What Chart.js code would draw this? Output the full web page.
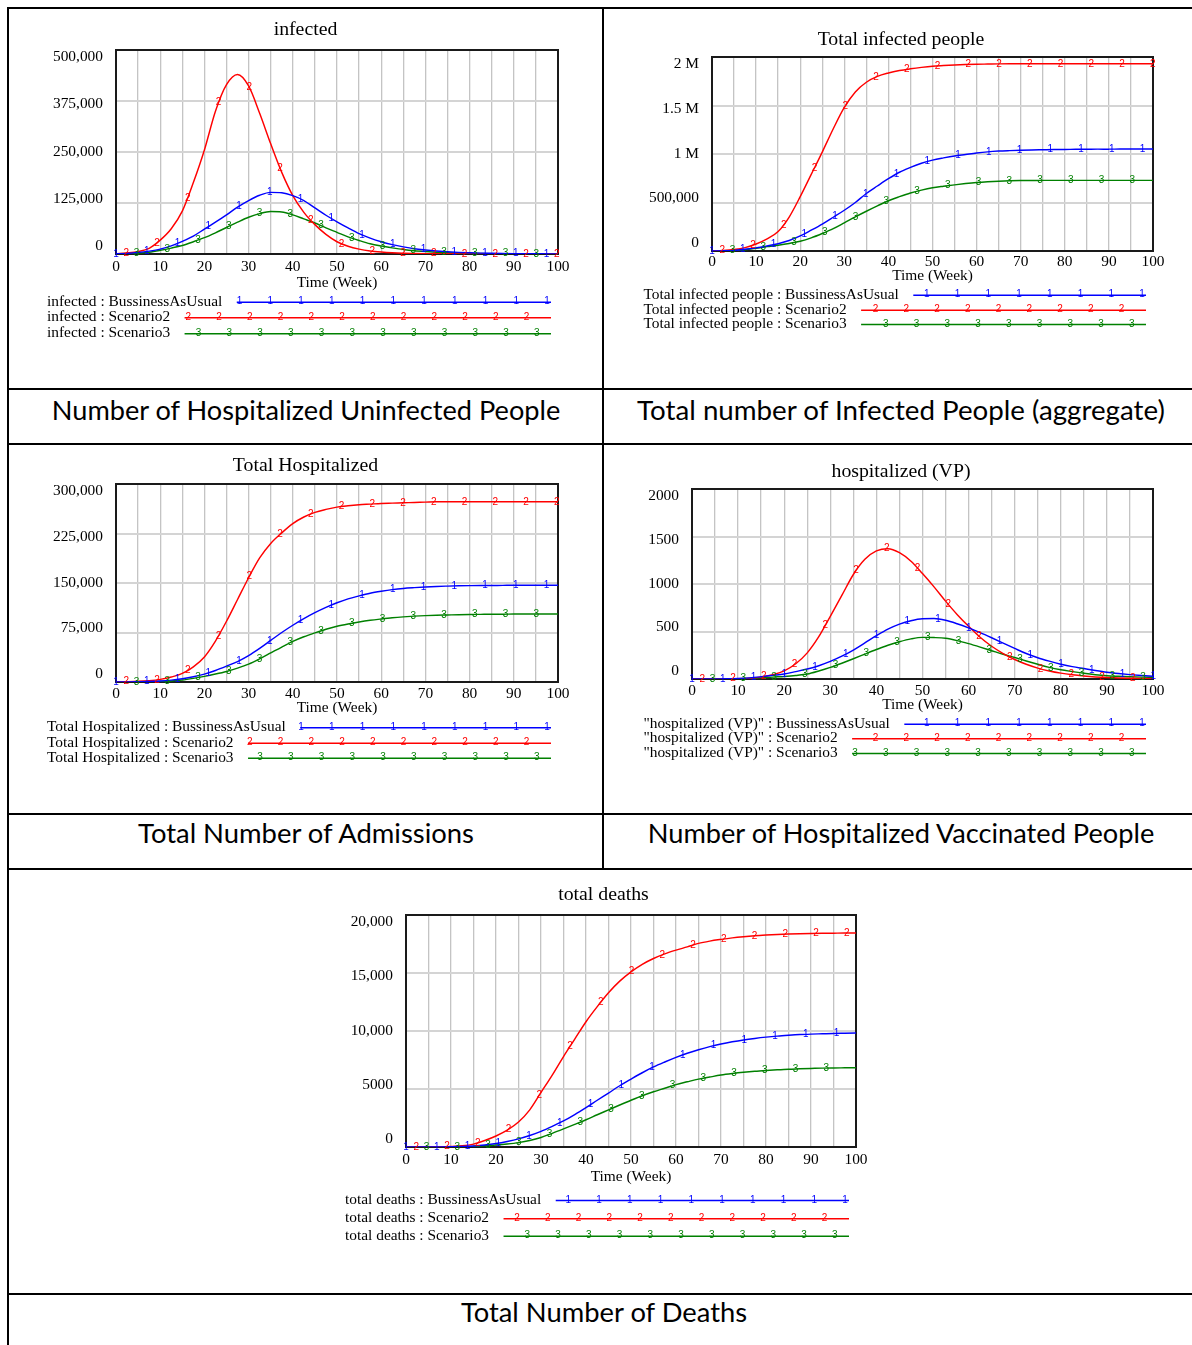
<!DOCTYPE html>
<html>
<head>
<meta charset="utf-8">
<title>Scenario results</title>
<script src="https://cdn.jsdelivr.net/npm/chart.js@4.4.1/dist/chart.umd.min.js"></script>
<style>
  html, body { margin: 0; padding: 0; background: #fff; }
  #page { position: relative; width: 1192px; height: 1345px; overflow: hidden; background: #fff; }
  canvas { position: absolute; }
  .rule { position: absolute; background: #000; z-index: 2; }
  .cap { position: absolute; white-space: nowrap; font-family: Lato, 'Noto Sans', sans-serif; font-size: 26.5px;
         line-height: 1; color: #000; transform-origin: 50% 50%; z-index: 3; }
</style>
</head>
<body>
<div id="page">
  <canvas id="cInfected" width="593" height="379" style="left:9px;top:9px"></canvas>
  <canvas id="cTotalInfected" width="588" height="379" style="left:604px;top:9px"></canvas>
  <canvas id="cTotalHosp" width="593" height="368" style="left:9px;top:445px"></canvas>
  <canvas id="cHospVP" width="588" height="368" style="left:604px;top:445px"></canvas>
  <canvas id="cDeaths" width="1183" height="423" style="left:9px;top:870px"></canvas>

  <div class="rule" style="left:7px;top:7px;width:1185px;height:2px"></div>
  <div class="rule" style="left:7px;top:388px;width:1185px;height:2px"></div>
  <div class="rule" style="left:7px;top:443px;width:1185px;height:2px"></div>
  <div class="rule" style="left:7px;top:813px;width:1185px;height:2px"></div>
  <div class="rule" style="left:7px;top:868px;width:1185px;height:2px"></div>
  <div class="rule" style="left:7px;top:1293px;width:1185px;height:2px"></div>
  <div class="rule" style="left:7px;top:7px;width:2px;height:1338px"></div>
  <div class="rule" style="left:602px;top:7px;width:2px;height:862px"></div>

  <div class="cap" id="cap1">Number of Hospitalized Uninfected People</div>
  <div class="cap" id="cap2">Total number of Infected People (aggregate)</div>
  <div class="cap" id="cap3">Total Number of Admissions</div>
  <div class="cap" id="cap4">Number of Hospitalized Vaccinated People</div>
  <div class="cap" id="cap5">Total Number of Deaths</div>
</div>

<script>
// ---------- simulation output (weekly time axis, every 2.5 weeks) ----------
const weeks = [0, 2.5, 5, 7.5, 10, 12.5, 15, 17.5, 20, 22.5,
  25, 27.5, 30, 32.5, 35, 37.5, 40, 42.5, 45, 47.5,
  50, 52.5, 55, 57.5, 60, 62.5, 65, 67.5, 70, 72.5,
  75, 77.5, 80, 82.5, 85, 87.5, 90, 92.5, 95, 97.5,
  100];

const gridWeeks = [0, 5, 10, 15, 20, 25, 30, 35, 40, 45, 50, 55, 60, 65, 70, 75, 80, 85, 90, 95, 100];
const weekLabels = ['0', '10', '20', '30', '40', '50', '60', '70', '80', '90', '100'];

const scenarioNames = ['BussinessAsUsual', 'Scenario2', 'Scenario3'];
const scenarioColors = ['#0000ff', '#ff0000', '#008000'];

// infected
const infectedBAU = [500, 1500, 3500, 7000, 12000, 20000, 31000, 44000, 61000, 78000,
  96000, 115000, 131000, 144000, 151000, 150000, 143000, 131000, 113000, 95000,
  79000, 64000, 50000, 39000, 30000, 23000, 17500, 13000, 10000, 7500,
  5500, 4000, 3000, 2200, 1600, 1200, 900, 650, 500, 350,
  250];
const infectedS2 = [500, 2500, 6000, 14000, 34000, 62000, 105000, 175000, 255000, 350000,
  415000, 440000, 412000, 345000, 270000, 200000, 143000, 102000, 72000, 48000,
  30000, 19000, 12000, 7500, 4800, 3000, 1900, 1300, 900, 650,
  450, 320, 230, 170, 120, 90, 65, 50, 40, 30,
  20];
const infectedS3 = [400, 1000, 2200, 4500, 9000, 14500, 21000, 30000, 40000, 52000,
  65000, 78000, 90000, 99000, 104000, 103000, 96000, 86000, 76000, 64000,
  53000, 42000, 33000, 25000, 19500, 15000, 11000, 8000, 6000, 4500,
  3300, 2400, 1800, 1300, 950, 700, 500, 380, 280, 200,
  150];

// Total infected people
const totalInfectedBAU = [1000, 2500, 6000, 18000, 32000, 52000, 75000, 108000, 155000, 215000,
  278000, 348000, 420000, 500000, 593000, 670000, 745000, 812000, 862000, 905000,
  937000, 960000, 980000, 995000, 1010000, 1022000, 1030000, 1035000, 1039000, 1042000,
  1044000, 1046000, 1047000, 1048000, 1049000, 1050000, 1050000, 1051000, 1051000, 1051000,
  1051000];
const totalInfectedS2 = [1000, 5000, 15000, 35000, 72000, 125000, 200000, 350000, 560000, 790000,
  1020000, 1260000, 1480000, 1640000, 1740000, 1800000, 1835000, 1860000, 1878000, 1893000,
  1905000, 1912000, 1918000, 1922000, 1925000, 1927000, 1929000, 1930000, 1930000, 1930000,
  1930000, 1930000, 1930000, 1930000, 1930000, 1930000, 1930000, 1930000, 1930000, 1930000,
  1930000];
const totalInfectedS3 = [800, 2000, 5000, 13000, 28000, 45000, 60000, 78000, 100000, 135000,
  180000, 230000, 290000, 352000, 410000, 465000, 518000, 560000, 598000, 628000,
  652000, 668000, 682000, 695000, 706000, 714000, 720000, 724000, 726000, 727000,
  728000, 728000, 728000, 728000, 728000, 728000, 728000, 728000, 728000, 728000,
  728000];

// Total Hospitalized
const totalHospBAU = [100, 200, 400, 800, 1500, 2800, 5000, 8000, 12000, 17500,
  24000, 31000, 40000, 51000, 63000, 75000, 86000, 96000, 105000, 113000,
  120000, 126000, 130500, 134500, 137500, 140000, 141800, 143000, 144000, 144800,
  145300, 145700, 146000, 146200, 146300, 146400, 146500, 146500, 146500, 146500,
  146500];
const totalHospS2 = [200, 500, 1000, 2000, 4000, 7500, 13000, 23000, 38000, 62000,
  92000, 125000, 158000, 188000, 210000, 226000, 240000, 250000, 257000, 261500,
  265000, 267000, 268500, 269500, 270500, 271000, 271500, 272000, 272500, 273000,
  273000, 273000, 273000, 273000, 273000, 273000, 273000, 273000, 273000, 273000,
  273000];
const totalHospS3 = [50, 100, 200, 400, 800, 1500, 3000, 5500, 8500, 12000,
  16000, 21000, 27000, 35000, 44000, 53000, 61500, 68500, 74500, 80000,
  84500, 88000, 91000, 93500, 95500, 97300, 98700, 99800, 100600, 101200,
  101600, 102000, 102300, 102500, 102700, 102800, 102900, 103000, 103000, 103000,
  103000];

// hospitalized (VP)
const hospVPBAU = [0, 0, 1, 2, 5, 12, 24, 38, 52, 78,
  105, 140, 185, 240, 305, 380, 456, 525, 578, 614,
  634, 636, 618, 582, 538, 488, 434, 378, 322, 268,
  224, 188, 156, 130, 110, 90, 72, 58, 46, 36,
  28];
const hospVPS2 = [0, 0, 1, 2, 4, 9, 20, 45, 85, 160,
  275, 445, 660, 880, 1100, 1260, 1348, 1372, 1330, 1240,
  1110, 970, 820, 680, 555, 440, 345, 268, 205, 155,
  115, 85, 62, 45, 32, 22, 15, 10, 7, 5,
  3];
const hospVPS3 = [0, 0, 0, 1, 3, 6, 12, 20, 27, 37,
  52, 84, 122, 166, 213, 262, 310, 355, 392, 422,
  438, 436, 428, 404, 372, 336, 298, 260, 226, 190,
  155, 122, 97, 78, 60, 45, 34, 28, 23, 20,
  18];

// total deaths
const deathsBAU = [0, 0, 2, 6, 15, 35, 80, 170, 300, 480,
  700, 990, 1350, 1780, 2250, 2800, 3400, 4030, 4650, 5280,
  5850, 6400, 6900, 7330, 7730, 8080, 8380, 8650, 8880, 9070,
  9230, 9360, 9470, 9560, 9630, 9690, 9730, 9760, 9790, 9810,
  9830];
const deathsS2 = [0, 0, 5, 15, 40, 100, 250, 560, 950, 1450,
  2150, 3200, 4700, 6200, 7800, 9300, 10800, 12100, 13300, 14300,
  15100, 15750, 16250, 16650, 16970, 17250, 17550, 17750, 17900, 18030,
  18130, 18210, 18270, 18320, 18360, 18390, 18410, 18425, 18435, 18445,
  18450];
const deathsS3 = [0, 0, 1, 3, 8, 20, 45, 100, 170, 260,
  380, 560, 820, 1180, 1560, 1950, 2350, 2780, 3200, 3620,
  4030, 4420, 4760, 5070, 5380, 5620, 5850, 6030, 6200, 6330,
  6440, 6530, 6600, 6660, 6710, 6740, 6770, 6800, 6815, 6825,
  6835];

// value-axis ticks
const infectedTicks = [0, 125000, 250000, 375000, 500000];
const infectedTickLabels = ['0', '125,000', '250,000', '375,000', '500,000'];
const totalInfectedTicks = [0, 500000, 1000000, 1500000, 2000000];
const totalInfectedTickLabels = ['0', '500,000', '1 M', '1.5 M', '2 M'];
const totalHospTicks = [0, 75000, 150000, 225000, 300000];
const totalHospTickLabels = ['0', '75,000', '150,000', '225,000', '300,000'];
const hospVPTicks = [0, 500, 1000, 1500, 2000];
const hospVPTickLabels = ['0', '500', '1000', '1500', '2000'];
const deathsTicks = [0, 5000, 10000, 15000, 20000];
const deathsTickLabels = ['0', '5000', '10,000', '15,000', '20,000'];

// ---------- drawing setup ----------
const SERIF = "'Liberation Serif', 'Times New Roman', serif";
const TEXT_SIZE = 15.4;
const TITLE_FONT = "19.8px 'Liberation Serif', 'Times New Roman', serif";
const LEGEND_FONT = TEXT_SIZE + "px 'Liberation Serif', 'Times New Roman', serif";
const MARK_FONT = "10px 'Liberation Sans', Arial, sans-serif";
const MARK_STEP = 30.75;
const LINE_W = 1.45;

Chart.defaults.font.family = SERIF;
Chart.defaults.color = '#000';

const panels = [
  { id: 'cInfected', area: { l: 107, t: 41, r: 549, b: 245 }, title: 'infected', titleX: 296.5, titleDy: -19.7,
    variable: 'infected', series: [infectedBAU, infectedS2, infectedS3],
    ticks: infectedTicks, tickLabels: infectedTickLabels,
    xPad: 3.5, xTitleDy: 28.7, legendX: 38, legendRows: [292.7, 308.3, 324.3] },
  { id: 'cTotalInfected', area: { l: 108, t: 48, r: 549, b: 242 }, title: 'Total infected people', titleX: 297, titleDy: -17.2,
    variable: 'Total infected people', series: [totalInfectedBAU, totalInfectedS2, totalInfectedS3],
    ticks: totalInfectedTicks, tickLabels: totalInfectedTickLabels,
    xPad: 1.5, xTitleDy: 24.7, legendX: 39.4, legendRows: [285.7, 300.7, 315] },
  { id: 'cTotalHosp', area: { l: 107, t: 39, r: 549, b: 237 }, title: 'Total Hospitalized', titleX: 296.5, titleDy: -17.8,
    variable: 'Total Hospitalized', series: [totalHospBAU, totalHospS2, totalHospS3],
    ticks: totalHospTicks, tickLabels: totalHospTickLabels,
    xPad: 2.8, xTitleDy: 26.3, legendX: 38, legendRows: [282.3, 297.7, 312.7] },
  { id: 'cHospVP', area: { l: 88, t: 44, r: 549, b: 234 }, title: 'hospitalized (VP)', titleX: 297, titleDy: -17,
    variable: '"hospitalized (VP)"', series: [hospVPBAU, hospVPS2, hospVPS3],
    ticks: hospVPTicks, tickLabels: hospVPTickLabels,
    xPad: 2.5, xTitleDy: 26, legendX: 39.4, legendRows: [278.7, 293.3, 308] },
  { id: 'cDeaths', area: { l: 397, t: 45, r: 847, b: 277 }, title: 'total deaths', titleX: 594.5, titleDy: -20.2,
    variable: 'total deaths', series: [deathsBAU, deathsS2, deathsS3],
    ticks: deathsTicks, tickLabels: deathsTickLabels,
    xPad: 3.8, xTitleDy: 30.3, legendX: 336, legendRows: [330, 348.3, 365.7] }
];

// cubic bezier helper used to place the run markers exactly on the drawn curve
function bez(a, b, c, d, t) {
  const u = 1 - t;
  return u * u * u * a + 3 * u * u * t * b + 3 * u * t * t * c + t * t * t * d;
}
function curveYAt(points, px) {
  if (px <= points[0].x) return points[0].y;
  for (let i = 0; i < points.length - 1; i++) {
    const p = points[i], q = points[i + 1];
    if (px > q.x) continue;
    const x1 = p.cp2x ?? p.x, y1 = p.cp2y ?? p.y, x2 = q.cp1x ?? q.x, y2 = q.cp1y ?? q.y;
    let lo = 0, hi = 1;
    for (let n = 0; n < 40; n++) {
      const t = (lo + hi) / 2;
      if (bez(p.x, x1, x2, q.x, t) < px) lo = t; else hi = t;
    }
    return bez(p.y, y1, y2, q.y, (lo + hi) / 2);
  }
  return points[points.length - 1].y;
}

// plot frame
const plotFrame = {
  id: 'plotFrame',
  beforeDatasetsDraw(chart) {
    const { ctx, chartArea: a } = chart;
    ctx.save();
    ctx.strokeStyle = '#1a1a1a';
    ctx.lineWidth = 2;
    ctx.strokeRect(a.left, a.top, a.right - a.left, a.bottom - a.top);
    ctx.restore();
  }
};

// numbered run markers (1, 2, 3) spaced along each line
const runMarkers = {
  id: 'runMarkers',
  afterDatasetsDraw(chart) {
    const { ctx, chartArea: a } = chart;
    ctx.save();
    ctx.font = MARK_FONT;
    ctx.textAlign = 'center';
    ctx.textBaseline = 'middle';
    chart.data.datasets.forEach((ds, k) => {
      const pts = chart.getDatasetMeta(k).data;
      ctx.fillStyle = ds.borderColor;
      for (let px = a.left + k * MARK_STEP / 3; px <= a.right + 0.5; px += MARK_STEP) {
        ctx.fillText(String(k + 1), px, curveYAt(pts, px));
      }
    });
    ctx.restore();
  }
};

function panelTitle(panel) {
  return {
    id: 'panelTitle',
    afterDraw(chart) {
      const { ctx, chartArea: a } = chart;
      ctx.save();
      ctx.font = TITLE_FONT;
      ctx.fillStyle = '#000';
      ctx.textAlign = 'center';
      ctx.textBaseline = 'middle';
      ctx.fillText(panel.title, panel.titleX, a.top + panel.titleDy);
      ctx.restore();
    }
  };
}

function runLegend(panel) {
  return {
    id: 'runLegend',
    afterDraw(chart) {
      const { ctx, chartArea: a } = chart;
      const end = a.right - 7;
      ctx.save();
      chart.data.datasets.forEach((ds, k) => {
        const y = panel.legendRows[k];
        ctx.font = LEGEND_FONT;
        ctx.fillStyle = '#000';
        ctx.textAlign = 'left';
        ctx.textBaseline = 'middle';
        ctx.fillText(ds.label, panel.legendX, y);
        const start = panel.legendX + ctx.measureText(ds.label).width + 14.5;
        ctx.strokeStyle = ds.borderColor;
        ctx.lineWidth = LINE_W;
        ctx.beginPath();
        ctx.moveTo(start, y + 0.5);
        ctx.lineTo(end, y + 0.5);
        ctx.stroke();
        ctx.font = MARK_FONT;
        ctx.fillStyle = ds.borderColor;
        ctx.textAlign = 'center';
        const off = 4 + ((3 - k) % 3) * MARK_STEP / 3;
        for (let x = end - off; x >= start - 0.5; x -= MARK_STEP) ctx.fillText(String(k + 1), x, y);
      });
      ctx.restore();
    }
  };
}

function buildPanel(panel) {
  const canvas = document.getElementById(panel.id);
  const W = canvas.width, H = canvas.height;
  const A = panel.area;
  const lh = TEXT_SIZE * 1.2;
  const xAxisH = panel.xTitleDy + lh / 2;
  const yMax = panel.ticks[panel.ticks.length - 1];
  const plotH = A.b - A.t;
  const tickFont = { family: SERIF, size: TEXT_SIZE };

  new Chart(canvas, {
    type: 'line',
    data: {
      datasets: panel.series.map((vals, k) => ({
        label: panel.variable + ' : ' + scenarioNames[k],
        data: weeks.map((w, i) => ({ x: w, y: vals[i] })),
        borderColor: scenarioColors[k],
        borderWidth: LINE_W,
        pointRadius: 0,
        fill: false,
        cubicInterpolationMode: 'monotone'
      }))
    },
    options: {
      responsive: false,
      animation: false,
      devicePixelRatio: 1,
      events: [],
      layout: { padding: { left: 0, top: A.t, right: W - A.r, bottom: H - A.b - xAxisH } },
      scales: {
        x: {
          type: 'linear', min: 0, max: 100,
          afterBuildTicks: s => { s.ticks = gridWeeks.map(v => ({ value: v })); },
          afterFit: s => { s.height = xAxisH; },
          grid: { color: '#c4c4c4', lineWidth: 1.3, drawTicks: false },
          border: { display: false },
          ticks: {
            autoSkip: false, maxRotation: 0, padding: panel.xPad, color: '#000', font: tickFont,
            callback: v => (v % 10 === 0 ? weekLabels[v / 10] : '')
          },
          title: { display: true, text: 'Time (Week)', color: '#000', font: tickFont, padding: 0 }
        },
        y: {
          type: 'linear', position: 'left', min: 0, max: yMax,
          afterBuildTicks: s => { s.ticks = panel.ticks.map(v => ({ value: v })); },
          afterFit: s => { s.width = 0; },
          grid: { color: '#d4d4d4', lineWidth: 2, drawTicks: false },
          border: { display: false },
          ticks: { display: false }
        },
        yLabels: {
          type: 'linear', position: 'left',
          min: -8 / (plotH - 15) * yMax,
          max: yMax * (1 + 7 / (plotH - 15)),
          afterBuildTicks: s => { s.ticks = panel.ticks.map(v => ({ value: v })); },
          afterFit: s => { s.width = A.l; },
          grid: { display: false, drawTicks: false },
          border: { display: false },
          ticks: {
            padding: 13, color: '#000', font: tickFont, autoSkip: false,
            callback: v => panel.tickLabels[panel.ticks.indexOf(v)]
          }
        }
      },
      plugins: { legend: { display: false }, tooltip: { enabled: false }, title: { display: false } }
    },
    plugins: [plotFrame, runMarkers, panelTitle(panel), runLegend(panel)]
  });
}

panels.forEach(buildPanel);

// table captions: baseline and width fitted to each cell
const captions = [
  { id: 'cap1', cx: 305.5, baseline: 420, width: 508 },
  { id: 'cap2', cx: 901, baseline: 420, width: 528 },
  { id: 'cap3', cx: 305.5, baseline: 843, width: 336 },
  { id: 'cap4', cx: 901, baseline: 843, width: 507 },
  { id: 'cap5', cx: 603.5, baseline: 1322, width: 286 }
];
function placeCaptions() {
  captions.forEach(c => {
    const el = document.getElementById(c.id);
    el.style.top = '0px';
    el.style.left = c.cx + 'px';
    el.style.transform = 'none';
    const probe = document.createElement('span');
    probe.style.display = 'inline-block';
    probe.style.width = '0';
    probe.style.height = '0';
    probe.style.verticalAlign = 'baseline';
    el.appendChild(probe);
    const base = probe.offsetTop;
    el.removeChild(probe);
    const natural = el.offsetWidth;
    el.style.top = (c.baseline - base) + 'px';
    el.style.transform = 'translateX(-50%) scaleX(' + (c.width / natural) + ')';
  });
}
placeCaptions();
if (document.fonts && document.fonts.ready) document.fonts.ready.then(placeCaptions);
</script>
</body>
</html>
